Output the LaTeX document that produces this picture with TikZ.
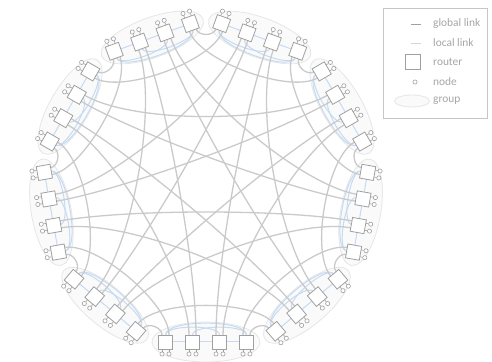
\documentclass[tikz,border=0pt]{standalone}
\usepackage{fontspec}
\setmainfont{Carlito}
\usepackage{tikz,xcolor}
\usetikzlibrary{calc,shapes.geometric}
\definecolor{glink}{RGB}{202,202,202}
\definecolor{llink}{RGB}{198,219,242}
\definecolor{rline}{RGB}{160,160,160}
\definecolor{gfill}{RGB}{250,250,250}
\definecolor{gline}{RGB}{230,230,230}
\definecolor{ltext}{RGB}{165,165,165}

\begin{document}
\begin{tikzpicture}[x=1pt,y=1pt,
  glob/.style={glink,line width=1.3pt},
  loc/.style={llink,line width=1pt},
  router/.style={draw=rline,fill=white,line width=0.8pt,minimum size=14pt,inner sep=0pt},
  host/.style={circle,draw=rline,fill=white,line width=0.6pt,minimum size=4.2pt,inner sep=0pt},
  stub/.style={rline,line width=0.6pt},
  grp/.style={ellipse,draw=gline,fill=gfill,line width=0.8pt,minimum width=108pt,minimum height=40pt},
  legtext/.style={text=ltext,anchor=west,inner sep=0pt,font=\fontsize{11.4}{13}\selectfont}]
\useasboundingbox (0,0) rectangle (492,361);
\coordinate (c) at (206,176);

\foreach \g in {0,...,8}{
  \pgfmathsetmacro{\ang}{270+40*\g}
  \node[grp,rotate=\ang+90] (grp\g) at ($(c)+(\ang:157)$) {};
  \foreach \j in {0,...,3}{
    \coordinate (r\g\j) at ($(c)+(\ang:157)+(\ang+90:{(\j-1.5)*27})$);
    \coordinate (t\g\j) at ($(r\g\j)+(\ang+180:7)$);
    \coordinate (a\g\j) at ($(t\g\j)+(\ang-90:3.5)$);
    \coordinate (b\g\j) at ($(t\g\j)+(\ang+90:3.5)$);
    \coordinate (oa\g\j) at ($(r\g\j)+(\ang:7)+(\ang-90:3.5)$);
    \coordinate (ob\g\j) at ($(r\g\j)+(\ang:7)+(\ang+90:3.5)$);
  }
}

\foreach \g in {0,...,8}{
  \pgfmathsetmacro{\ang}{270+40*\g}
  \draw[loc] (r\g0) -- (r\g3);
  \draw[loc] (t\g0) to[out=\ang+180,in=\ang+180,looseness=0.5] (t\g2);
  \draw[loc] (t\g1) to[out=\ang+180,in=\ang+180,looseness=0.5] (t\g3);
  \draw[loc] (t\g0) to[out=\ang+180,in=\ang+180,looseness=0.5] (t\g3);
}

\foreach \g in {0,...,8}{
  \pgfmathsetmacro{\ang}{270+40*\g}
  \foreach \dd/\srt/\spt/\trt/\tpt/\lo in {1/3/b/0/a/1,2/3/a/0/b/0.6,3/2/b/1/a/0.6,4/2/a/1/b/0.6}{
    \pgfmathtruncatemacro{\hh}{mod(\g+\dd,9)}
    \pgfmathsetmacro{\angt}{\ang+40*\dd}
    \draw[glob] (\spt\g\srt) to[out=\ang+180,in=\angt+180,looseness=\lo] (\tpt\hh\trt);
  }
}

\foreach \g in {0,...,8}{
  \pgfmathsetmacro{\ang}{270+40*\g}
  \foreach \j in {0,...,3}{
    \node[router,rotate=\ang+90] (R\g\j) at (r\g\j) {};
    \node[host] (ha\g\j) at ($(r\g\j)+(\ang:12)+(\ang-90:3.5)$) {};
    \node[host] (hb\g\j) at ($(r\g\j)+(\ang:12)+(\ang+90:3.5)$) {};
    \draw[stub] (oa\g\j) -- (ha\g\j);
    \draw[stub] (ob\g\j) -- (hb\g\j);
  }
}

\draw[gray!45,line width=0.8pt] (383,243) rectangle (487,353);
\node[legtext] (lg1) at (433,337) {global link};
\node[legtext] (lg2) at (433,318) {local link};
\node[legtext] (lg3) at (433,299) {router};
\node[legtext] (lg4) at (433,279) {node};
\node[legtext] (lg5) at (433,260) {group};
\draw[rline,line width=0.8pt] ([xshift=-22pt]lg1.west) -- ([xshift=-12pt]lg1.west);
\draw[llink,line width=0.8pt] ([xshift=-22pt]lg2.west) -- ([xshift=-12pt]lg2.west);
\node[router,minimum size=15pt] (lgr) at ([xshift=-20.5pt]lg3.west) {};
\node[host] (lgh) at ([xshift=-18pt]lg4.west) {};
\node[grp,minimum width=35pt,minimum height=12pt] (lgg) at ([xshift=-21pt]lg5.west) {};
\end{tikzpicture}
\end{document}
